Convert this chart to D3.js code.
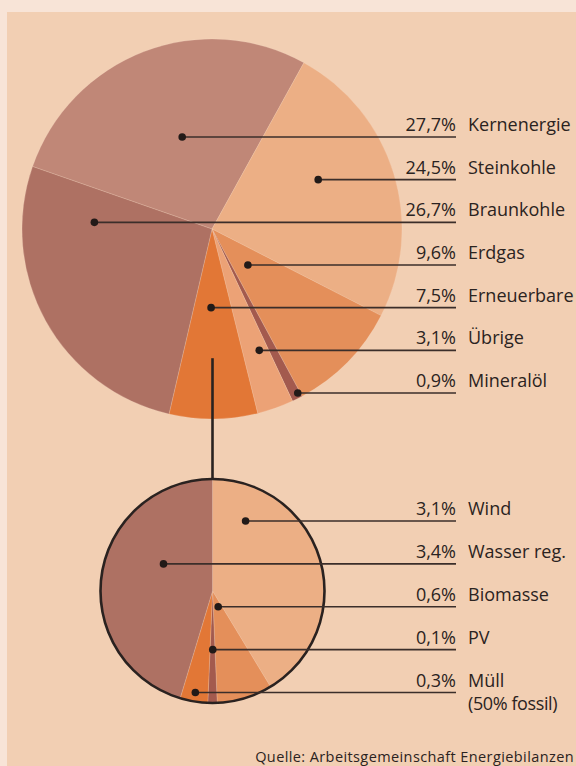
<!DOCTYPE html>
<html><head><meta charset="utf-8">
<script src="https://cdn.jsdelivr.net/npm/d3@7"></script>
<style>
html,body{margin:0;padding:0;background:#f8e4d7;}
svg{display:block;}
text{font-family:"Open Sans","Noto Sans",sans-serif;fill:#2b2321;}
</style></head>
<body>
<script>
// ---- data ----
const mainCategories = ["Kernenergie","Steinkohle","Erdgas","Mineralöl","Übrige","Erneuerbare","Braunkohle"];
const mainValues     = [27.7, 24.5, 9.6, 0.9, 3.1, 7.5, 26.7];
const mainLabelOrder = ["Kernenergie","Steinkohle","Braunkohle","Erdgas","Erneuerbare","Übrige","Mineralöl"];

const subCategories  = ["Wind","Biomasse","PV","Müll","Wasser reg."];
const subValues      = [3.1, 0.6, 0.1, 0.3, 3.4];
const subLabelOrder  = ["Wind","Wasser reg.","Biomasse","PV","Müll"];
const subNotes       = {"Müll":"(50% fossil)"};
const sourceText     = "Quelle: Arbeitsgemeinschaft Energiebilanzen";

// ---- styles / layout ----
const W = 576, H = 766;
const colors = {
  "Kernenergie":"#c08777","Steinkohle":"#ecaf85","Erdgas":"#e48f5a","Mineralöl":"#a35a4e",
  "Übrige":"#eca276","Erneuerbare":"#e27736","Braunkohle":"#ae7163",
  "Wind":"#ecaf85","Biomasse":"#e48f5a","PV":"#a35a4e","Müll":"#e27736","Wasser reg.":"#ae7163"
};
// where within each slice (0..1 of its angular span) the leader dot sits
const mainAnchor = {"Kernenergie":0.53,"Steinkohle":0.41,"Erdgas":0.52,"Mineralöl":0.22,"Übrige":0.34,"Erneuerbare":0.54,"Braunkohle":0.834};
const subAnchor  = {"Wind":0.17,"Biomasse":0.39,"PV":0.45,"Müll":0.5,"Wasser reg.":0.626};

const big = {cx:212, cy:229, r:190, start:-70.8};
const small = {cx:212.5, cy:591, r:112, start:0};
const lineEnd = 456, nameX = 468, fs = 18;

const svg = d3.select("body").append("svg").attr("width",W).attr("height",H);
svg.append("rect").attr("x",7).attr("y",12).attr("width",W-7).attr("height",H-12).attr("fill","#f2cfb3");

const rad = d => d*Math.PI/180;

function drawPie(cats, vals, conf, anchors, labelOrder, rowRange, outline){
  const data = cats.map((c,i)=>({name:c, value:vals[i]}));
  const pie = d3.pie().value(d=>d.value).sort(null)
      .startAngle(rad(conf.start)).endAngle(rad(conf.start)+2*Math.PI);
  const arcs = pie(data);
  const arc = d3.arc().innerRadius(0).outerRadius(conf.r);
  const g = svg.append("g").attr("transform",`translate(${conf.cx},${conf.cy})`);
  g.selectAll("path").data(arcs).join("path")
    .attr("d",arc).attr("fill",d=>colors[d.data.name])
    .attr("stroke","rgba(250,225,205,0.35)").attr("stroke-width",0.6);
  if(outline){
    g.append("circle").attr("r",conf.r).attr("fill","none").attr("stroke","#2a2220").attr("stroke-width",2.6);
  }
  const rowY = d3.scalePoint().domain(labelOrder).range(rowRange);
  const lg = svg.append("g");
  arcs.forEach(a=>{
    const name = a.data.name;
    const ang = a.startAngle + (a.endAngle-a.startAngle)*anchors[name];
    const y = rowY(name);
    const dy = y - conf.cy;
    const t = dy / (-Math.cos(ang));
    const x = conf.cx + t*Math.sin(ang);
    lg.append("line").attr("x1",x).attr("y1",y).attr("x2",lineEnd).attr("y2",y)
      .attr("stroke","#3b2e2a").attr("stroke-width",1.6);
    lg.append("circle").attr("cx",x).attr("cy",y).attr("r",3.8).attr("fill","#221a18");
    lg.append("text").attr("x",lineEnd).attr("y",y-6).attr("text-anchor","end")
      .attr("font-size",fs).text(d3.format(".1f")(a.data.value).replace(".",",")+"%");
    lg.append("text").attr("x",nameX).attr("y",y-6).attr("font-size",fs).text(name);
    if(subNotes[name]){
      lg.append("text").attr("x",nameX).attr("y",y+17).attr("font-size",fs)
        .attr("letter-spacing",-0.4).text(subNotes[name]);
    }
  });
}

drawPie(mainCategories, mainValues, big, mainAnchor, mainLabelOrder, [137,393], false);

// connector between Erneuerbare and its breakdown
svg.append("line").attr("x1",small.cx).attr("x2",small.cx)
  .attr("y1",big.cy+big.r*0.68).attr("y2",small.cy-small.r)
  .attr("stroke","#2a2220").attr("stroke-width",2.6);

drawPie(subCategories, subValues, small, subAnchor, subLabelOrder, [521,692.5], true);

svg.append("text").attr("x",574).attr("y",762).attr("text-anchor","end")
  .attr("font-size",14.5).attr("letter-spacing",0.4).text(sourceText);
</script>
</body></html>
